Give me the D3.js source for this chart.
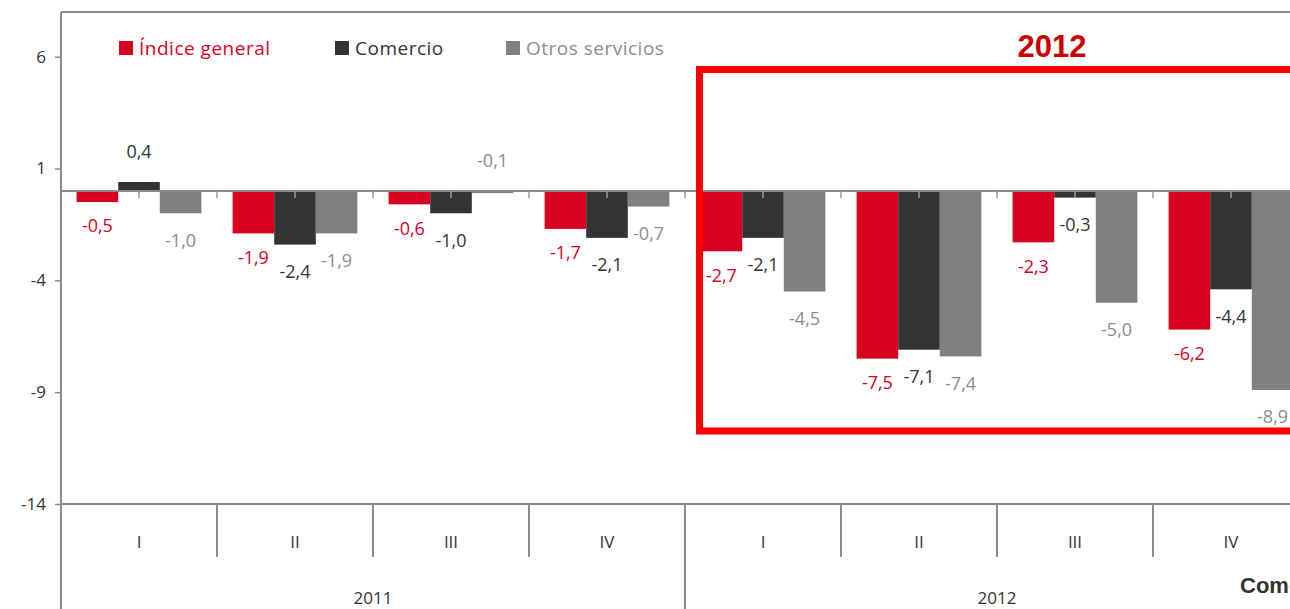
<!DOCTYPE html>
<html>
<head>
<meta charset="utf-8">
<script src="https://cdn.jsdelivr.net/npm/d3@7"></script>
<style>
  html, body { margin: 0; padding: 0; background: #fff; overflow: hidden; }
  text { font-family: "Open Sans", "DejaVu Sans", sans-serif; }
</style>
</head>
<body>
<div id="chart"></div>
<script>
'use strict';

// chart data
var quarters = ['I', 'II', 'III', 'IV', 'I', 'II', 'III', 'IV'];
var years = ['2011', '2012'];
var seriesNames = ['Índice general', 'Comercio', 'Otros servicios'];
var indiceGeneral = [-0.5, -1.9, -0.6, -1.7, -2.7, -7.5, -2.3, -6.2];
var comercio = [0.4, -2.4, -1.0, -2.1, -2.1, -7.1, -0.3, -4.4];
var otrosServicios = [-1.0, -1.9, -0.1, -0.7, -4.5, -7.4, -5.0, -8.9];
var yTicks = [-14, -9, -4, 1, 6];

var barColors = ['#d7001f', '#333333', '#808080'];
var labelColors = ['#d7001f', '#333333', '#8c8c8c'];

var WIDTH = 1290, HEIGHT = 609;
var MARGIN = { left: 61, top: 12 };
var plotBottom = 504;
var plotRight = MARGIN.left + 156 * quarters.length;

var svg = d3.select('#chart')
	.append('svg')
	.attr('width', WIDTH)
	.attr('height', HEIGHT);

var values = [indiceGeneral, comercio, otrosServicios];

// scales
var x = d3.scaleBand()
	.domain(d3.range(quarters.length))
	.range([MARGIN.left, plotRight]);

var xInner = d3.scaleBand()
	.domain(d3.range(seriesNames.length))
	.range([0, x.bandwidth()])
	.paddingInner(0)
	.paddingOuter(0.375);

var y = d3.scaleLinear()
	.domain([-14, 8])
	.range([plotBottom, MARGIN.top]);

var frameColor = '#8a8a8a';

// bars
var groups = svg.append('g').selectAll('g')
	.data(d3.range(quarters.length))
	.enter().append('g')
	.attr('transform', function (i) { return 'translate(' + x(i) + ',0)'; });

groups.selectAll('rect')
	.data(function (i) {
		return values.map(function (s, k) { return { k: k, v: s[i] }; });
	})
	.enter().append('rect')
	.attr('x', function (d) { return xInner(d.k); })
	.attr('width', xInner.bandwidth())
	.attr('y', function (d) { return y(Math.max(0, d.v)); })
	.attr('height', function (d) { return Math.abs(y(d.v) - y(0)); })
	.attr('fill', function (d) { return barColors[d.k]; });

// zero line with ticks
svg.append('line')
	.attr('x1', MARGIN.left).attr('x2', plotRight)
	.attr('y1', y(0)).attr('y2', y(0))
	.attr('stroke', frameColor).attr('stroke-width', 2);

svg.append('g').selectAll('line')
	.data(d3.range(1, quarters.length * 2 + 1))
	.enter().append('line')
	.attr('x1', function (h) { return MARGIN.left + h * x.step() / 2; })
	.attr('x2', function (h) { return MARGIN.left + h * x.step() / 2; })
	.attr('y1', y(0)).attr('y2', y(0) + 7)
	.attr('stroke', '#9a9a9a').attr('stroke-width', 1.5);

// value labels
function fmt(v) { return v.toFixed(1).replace('.', ','); }

groups.selectAll('text.val')
	.data(function (i) {
		return values.map(function (s, k) { return { k: k, v: s[i] }; });
	})
	.enter().append('text')
	.attr('class', 'val')
	.attr('x', function (d) { return xInner(d.k) + xInner.bandwidth() / 2; })
	.attr('y', function (d) {
		// tiny or positive values get their label above the axis
		if (d.v > -0.2) return y(Math.max(0, d.v)) - 30;
		return y(d.v) + (d.k === 0 ? 24 : 27);
	})
	.attr('dy', '0.35em')
	.attr('text-anchor', 'middle')
	.style('font-size', '18px')
	.attr('fill', function (d) { return labelColors[d.k]; })
	.text(function (d) { return fmt(d.v); });

// frame: top line, bottom line
svg.append('line')
	.attr('x1', MARGIN.left).attr('x2', plotRight)
	.attr('y1', MARGIN.top).attr('y2', MARGIN.top)
	.attr('stroke', frameColor).attr('stroke-width', 2);
svg.append('line')
	.attr('x1', MARGIN.left).attr('x2', plotRight)
	.attr('y1', plotBottom).attr('y2', plotBottom)
	.attr('stroke', frameColor).attr('stroke-width', 2);

// y axis
var yAxis = d3.axisLeft(y)
	.tickValues(yTicks)
	.tickSize(6)
	.tickPadding(9)
	.tickFormat(function (d) { return String(d); });

var yg = svg.append('g')
	.attr('transform', 'translate(' + MARGIN.left + ',0)')
	.call(yAxis);
yg.select('.domain').remove();
yg.selectAll('.tick line').attr('stroke', frameColor).attr('stroke-width', 1.5);
yg.selectAll('.tick text')
	.attr('fill', '#333')
	.style('font-size', '17px')
	.style('font-family', '"Open Sans", "DejaVu Sans", sans-serif');

svg.append('line')
	.attr('x1', MARGIN.left).attr('x2', MARGIN.left)
	.attr('y1', MARGIN.top).attr('y2', HEIGHT)
	.attr('stroke', frameColor).attr('stroke-width', 2);

// category separators
svg.append('g').selectAll('line')
	.data(d3.range(1, quarters.length + 1))
	.enter().append('line')
	.attr('x1', function (i) { return x.step() * i + MARGIN.left; })
	.attr('x2', function (i) { return x.step() * i + MARGIN.left; })
	.attr('y1', plotBottom)
	.attr('y2', function (i) { return i % 4 === 0 ? HEIGHT : 557; })
	.attr('stroke', frameColor).attr('stroke-width', 2);

// quarter labels
svg.append('g').selectAll('text')
	.data(quarters)
	.enter().append('text')
	.attr('x', function (d, i) { return x(i) + x.bandwidth() / 2; })
	.attr('y', 542)
	.attr('dy', '0.35em')
	.attr('text-anchor', 'middle')
	.style('font-size', '17px')
	.attr('fill', '#333')
	.text(function (d) { return d; });

// year labels
svg.append('g').selectAll('text')
	.data(years)
	.enter().append('text')
	.attr('x', function (d, i) { return x(i * 4) + x.step() * 2; })
	.attr('y', 598)
	.attr('dy', '0.35em')
	.attr('text-anchor', 'middle')
	.style('font-size', '17px')
	.attr('fill', '#333')
	.text(function (d) { return d; });

// legend
var legendX = [119, 335, 506];
var legend = svg.append('g').selectAll('g')
	.data(seriesNames)
	.enter().append('g')
	.attr('transform', function (d, i) { return 'translate(' + legendX[i] + ',41)'; });
legend.append('rect')
	.attr('width', 14).attr('height', 14)
	.attr('fill', function (d, i) { return barColors[i]; });
legend.append('text')
	.attr('x', 20).attr('y', 7)
	.attr('dy', '0.35em')
	.style('font-size', '19px')
	.style('letter-spacing', '0.5px')
	.attr('fill', function (d, i) { return i === 1 ? '#333' : labelColors[i]; })
	.text(function (d) { return d; });

// 2012 highlight box
var boxLeft = x(4) + 14.5;
svg.append('rect')
	.attr('x', boxLeft)
	.attr('y', 69.5)
	.attr('width', WIDTH + 40 - boxLeft)
	.attr('height', 431 - 69.5)
	.attr('fill', 'none')
	.attr('stroke', '#ff0000')
	.attr('stroke-width', 7);

svg.append('text')
	.attr('x', 1052)
	.attr('y', 57)
	.attr('text-anchor', 'middle')
	.style('font-family', '"Liberation Sans", Arial, sans-serif')
	.style('font-weight', 'bold')
	.style('font-size', '31px')
	.attr('fill', '#cc0000')
	.text('2012');

// caption running off the right edge, as in the reference
svg.append('text')
	.attr('x', 1240)
	.attr('y', 593)
	.style('font-family', '"Liberation Sans", Arial, sans-serif')
	.style('font-weight', 'bold')
	.style('font-size', '22px')
	.attr('fill', '#333')
	.text('Comercio');
</script>
</body>
</html>
